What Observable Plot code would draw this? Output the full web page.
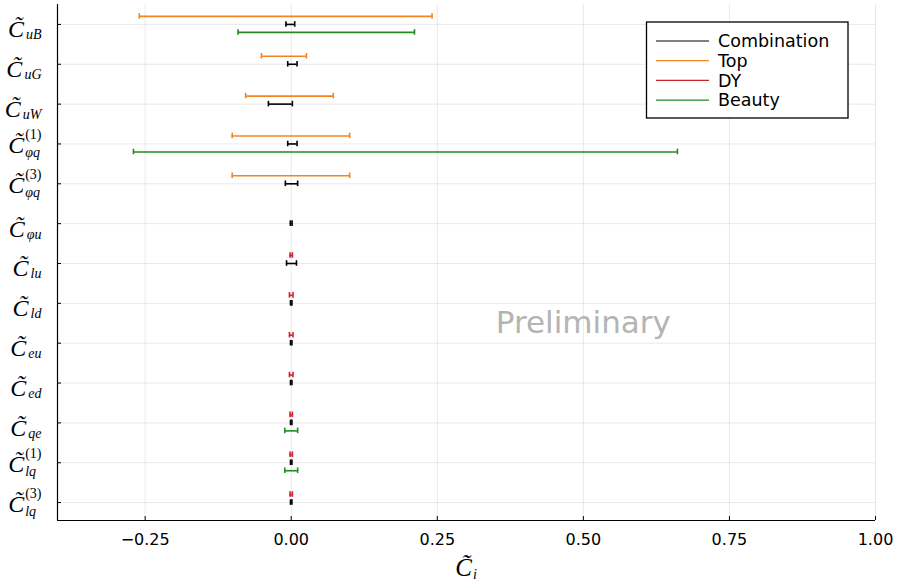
<!DOCTYPE html>
<html><head><meta charset="utf-8">
<script src="https://cdn.jsdelivr.net/npm/d3@7"></script>
<script src="https://cdn.jsdelivr.net/npm/@observablehq/plot@0.6"></script>
<style>
body{margin:0;background:#fff;}
#chart{position:relative;width:900px;height:582px;}
</style></head><body><div id="chart"></div>
<script>
// ---- data ----
const coefficients = ["uB","uG","uW","phiq1","phiq3","phiu","lu","ld","eu","ed","qe","lq1","lq3"];
const labelSub = ["uB","uG","uW","φq","φq","φu","lu","ld","eu","ed","qe","lq","lq"];
const labelSup = ["","","","(1)","(3)","","","","","","","(1)","(3)"];

const seriesNames = ["Combination","Top","DY","Beauty"];
const seriesColors = ["#000000","#f5841e","#c9202f","#228b22"];

const combinationCoefs = ["uB","uG","uW","phiq1","phiq3","phiu","lu","ld","eu","ed","qe","lq1","lq3"];
const combinationLow  = [-0.009,-0.006,-0.039,-0.006,-0.010,-0.0015,-0.008,-0.0012,-0.0012,-0.0012,-0.0012,-0.0012,-0.0012];
const combinationHigh = [ 0.006, 0.010, 0.002, 0.010, 0.011, 0.0015, 0.009, 0.0012, 0.0012, 0.0012, 0.0012, 0.0012, 0.0012];

const topCoefs = ["uB","uG","uW","phiq1","phiq3"];
const topLow  = [-0.260,-0.051,-0.078,-0.101,-0.101];
const topHigh = [ 0.241, 0.026, 0.072, 0.100, 0.100];

const dyCoefs = ["lu","ld","eu","ed","qe","lq1","lq3"];
const dyLow  = [-0.002,-0.003,-0.003,-0.003,-0.002,-0.002,-0.002];
const dyHigh = [ 0.002, 0.003, 0.003, 0.003, 0.002, 0.002, 0.002];

const beautyCoefs = ["uB","phiq1","qe","lq1"];
const beautyLow  = [-0.091,-0.270,-0.011,-0.011];
const beautyHigh = [ 0.211, 0.661, 0.011, 0.011];

const xTicks = [-0.25, 0, 0.25, 0.5, 0.75, 1.0];
const xDomain = [-0.4, 1.0];
const yDomain = [12.45, -0.5];

const annotationText = ["Preliminary"];
const annotationX = [0.5];
const annotationY = [7.5];

// ---- build ----
const seriesData = [
  [combinationCoefs, combinationLow, combinationHigh],
  [topCoefs, topLow, topHigh],
  [dyCoefs, dyLow, dyHigh],
  [beautyCoefs, beautyLow, beautyHigh]
].map(([c, lo, hi]) => c.map((k, j) => ({i: coefficients.indexOf(k), lo: lo[j], hi: hi[j]})));
const seriesOffset = [0, -8, -8, 8];
const idx = coefficients.map((_, i) => i);
const cap = 0.07;

const barMarks = [];
seriesData.forEach((rows, s) => {
  const st = {stroke: seriesColors[s], strokeWidth: 1.6, dy: seriesOffset[s]};
  barMarks.push(Plot.ruleY(rows, {y: "i", x1: "lo", x2: "hi", ...st}));
  barMarks.push(Plot.ruleX(rows, {x: "lo", y1: d => d.i - cap, y2: d => d.i + cap, ...st}));
  barMarks.push(Plot.ruleX(rows, {x: "hi", y1: d => d.i - cap, y2: d => d.i + cap, ...st}));
});

const annotations = annotationText.map((t, j) => ({text: t, x: annotationX[j], y: annotationY[j]}));

const chart = Plot.plot({
  width: 900, height: 582,
  marginLeft: 57, marginRight: 25, marginTop: 4, marginBottom: 62,
  x: {domain: xDomain},
  y: {domain: yDomain},
  style: {fontFamily: "DejaVu Sans", background: "white", color: "black"},
  marks: [
    Plot.gridX(xTicks, {stroke: "#000", strokeOpacity: 0.09}),
    Plot.gridY(idx, {stroke: "#000", strokeOpacity: 0.09}),
    Plot.axisX(xTicks, {tickSize: 0, tickPadding: 13, tickFormat: d3.format(".2f"), fontSize: 16, label: null}),
    Plot.axisX(xTicks, {tickSize: 4, dy: -4, tickFormat: () => "", label: null}),
    Plot.axisY(idx, {tickSize: 0, tickPadding: 16, tickFormat: i => "C̃" + labelSub[i], label: null}),
    Plot.axisY(idx, {tickSize: 4, dx: 4, tickFormat: () => "", label: null}),
    Plot.ruleX([xDomain[0]], {stroke: "#000", strokeWidth: 1.2}),
    Plot.ruleY([yDomain[0]], {stroke: "#000", strokeWidth: 1.2}),
    ...barMarks,
    Plot.text(annotations, {x: "x", y: "y", text: "text", fontSize: 31, fill: "#b4b4b4", fontFamily: "DejaVu Sans"})
  ]
});
document.getElementById("chart").append(chart);

// ---- math-style tick labels ----
const svg = d3.select(chart);
const yLabelGroup = svg.select('g[aria-label="y-axis tick label"]');
yLabelGroup.attr("font-variant", null);
yLabelGroup.selectAll("text").each(function(_, k) {
  const t = d3.select(this);
  const hasSup = labelSup[k] !== "";
  t.text(null).attr("y", hasSup ? 9 : 13)
    .attr("font-family", "'Liberation Serif', 'DejaVu Serif', serif")
    .attr("font-style", "italic").attr("text-anchor", "end");
  t.append("tspan").attr("font-size", 24).text("C̃");
  if (hasSup) {
    const sup = t.append("tspan").attr("font-size", 14).attr("font-style", "normal").attr("dx", 1).attr("dy", -14).text(labelSup[k]);
    const w = sup.node().getComputedTextLength();
    t.append("tspan").attr("font-size", 14).attr("dx", -w).attr("dy", 18).text(labelSub[k]);
  } else {
    t.append("tspan").attr("font-size", 14).attr("dx", 2).attr("dy", 2).text(labelSub[k]);
  }
});

// x-axis title
const xt = svg.append("text")
  .attr("x", 466).attr("y", 576).attr("text-anchor", "middle")
  .attr("font-family", "'Liberation Serif', 'DejaVu Serif', serif").attr("font-style", "italic");
xt.append("tspan").attr("font-size", 25).text("C̃");
xt.append("tspan").attr("font-size", 14).attr("dx", 1).attr("dy", 3).text("i");

// legend
const lg = svg.append("g").attr("font-family", "DejaVu Sans").attr("font-size", 17.5).attr("text-anchor", "start");
lg.append("rect").attr("x", 646.5).attr("y", 22).attr("width", 201.5).attr("height", 96)
  .attr("fill", "white").attr("stroke", "black").attr("stroke-width", 1.3);
seriesNames.forEach((name, s) => {
  const y = 41 + s * 19.7;
  lg.append("line").attr("x1", 656).attr("x2", 709).attr("y1", y).attr("y2", y)
    .attr("stroke", seriesColors[s]).attr("stroke-width", 1.2);
  lg.append("text").attr("x", 718).attr("y", y).attr("dy", "0.36em").attr("text-anchor", "start").text(name);
});
</script></body></html>
